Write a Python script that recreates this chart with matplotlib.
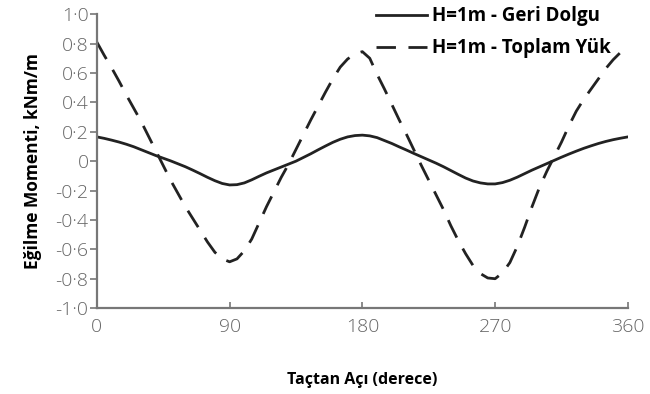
import matplotlib.pyplot as plt
from matplotlib.ticker import FixedLocator, FuncFormatter

# açı (derece), 5 derece aralıklarla okunmuş değerler
angle = list(range(0, 365, 5))

# H=1m - Geri Dolgu
geri_dolgu = [0.165, 0.155, 0.143, 0.13, 0.115, 0.098, 0.078, 0.058, 0.038, 0.02,
              0.002, -0.018, -0.038, -0.061, -0.085, -0.11, -0.133, -0.152, -0.162, -0.16,
              -0.148, -0.127, -0.103, -0.08, -0.06, -0.04, -0.02, 0.0, 0.025, 0.05,
              0.077, 0.103, 0.128, 0.149, 0.165, 0.174, 0.177, 0.172, 0.16, 0.14,
              0.12, 0.097, 0.075, 0.052, 0.03, 0.008, -0.014, -0.038, -0.064, -0.09,
              -0.115, -0.135, -0.148, -0.155, -0.155, -0.146, -0.13, -0.109, -0.085, -0.061,
              -0.039, -0.017, 0.005, 0.027, 0.048, 0.068, 0.087, 0.104, 0.12, 0.134,
              0.146, 0.156, 0.165]

# H=1m - Toplam Yük
toplam_yuk = [0.81, 0.72, 0.635, 0.545, 0.45, 0.36, 0.27, 0.17, 0.07, -0.03,
              -0.13, -0.22, -0.31, -0.39, -0.47, -0.55, -0.62, -0.665, -0.685, -0.665,
              -0.61, -0.53, -0.42, -0.31, -0.21, -0.11, -0.02, 0.08, 0.18, 0.28,
              0.375, 0.47, 0.56, 0.64, 0.695, 0.73, 0.745, 0.70, 0.59, 0.49,
              0.385, 0.28, 0.18, 0.075, -0.03, -0.13, -0.23, -0.33, -0.44, -0.54,
              -0.63, -0.71, -0.765, -0.795, -0.80, -0.76, -0.69, -0.58, -0.45, -0.31,
              -0.18, -0.07, 0.03, 0.13, 0.24, 0.34, 0.42, 0.49, 0.56, 0.63,
              0.69, 0.74, 0.78]

x_ticks = [0, 90, 180, 270, 360]
y_ticks = [-1.0, -0.8, -0.6, -0.4, -0.2, 0, 0.2, 0.4, 0.6, 0.8, 1.0]

plt.rcParams['font.family'] = ['Open Sans', 'DejaVu Sans']

fig = plt.figure(figsize=(6.5, 3.94), dpi=100)
ax = fig.add_axes([0.149, 0.218, 0.817, 0.746])

ax.plot(angle, geri_dolgu, color='#222222', lw=2.0, label='H=1m - Geri Dolgu')
ax.plot(angle, toplam_yuk, color='#222222', lw=2.0, dashes=(7, 4.5), label='H=1m - Toplam Yük')

ax.set_xlim(0, 360)
ax.set_ylim(-1.0, 1.0)
ax.xaxis.set_major_locator(FixedLocator(x_ticks))
ax.yaxis.set_major_locator(FixedLocator(y_ticks))


def fmt(v, pos):
    if abs(v) < 1e-9:
        return '0'
    return f'{v:.1f}'.replace('.', '·')


ax.yaxis.set_major_formatter(FuncFormatter(fmt))

for s in ['top', 'right']:
    ax.spines[s].set_visible(False)
for s in ['left', 'bottom']:
    ax.spines[s].set_color('#777777')
    ax.spines[s].set_linewidth(1.6)

ax.tick_params(axis='y', direction='out', length=5, width=1.2, color='#777777',
               labelsize=14, labelcolor='#666666', pad=1)
ax.tick_params(axis='x', direction='in', length=4, width=1.2, color='#777777',
               labelsize=14, labelcolor='#666666', pad=7)
for lab in ax.get_xticklabels() + ax.get_yticklabels():
    lab.set_fontweight('light')

ax.set_ylabel('Eğilme Momenti, kNm/m', fontsize=12.5, fontweight='bold', labelpad=10)
ax.set_xlabel('Taçtan Açı (derece)', fontsize=11.5, fontweight='bold', labelpad=26)

leg = ax.legend(loc='upper right', bbox_to_anchor=(1.0, 1.085), frameon=False,
                prop={'weight': 'bold', 'size': 13.5}, handlelength=2.7,
                handletextpad=0.3, labelspacing=0.65)

fig.savefig('out.png', dpi=100)
